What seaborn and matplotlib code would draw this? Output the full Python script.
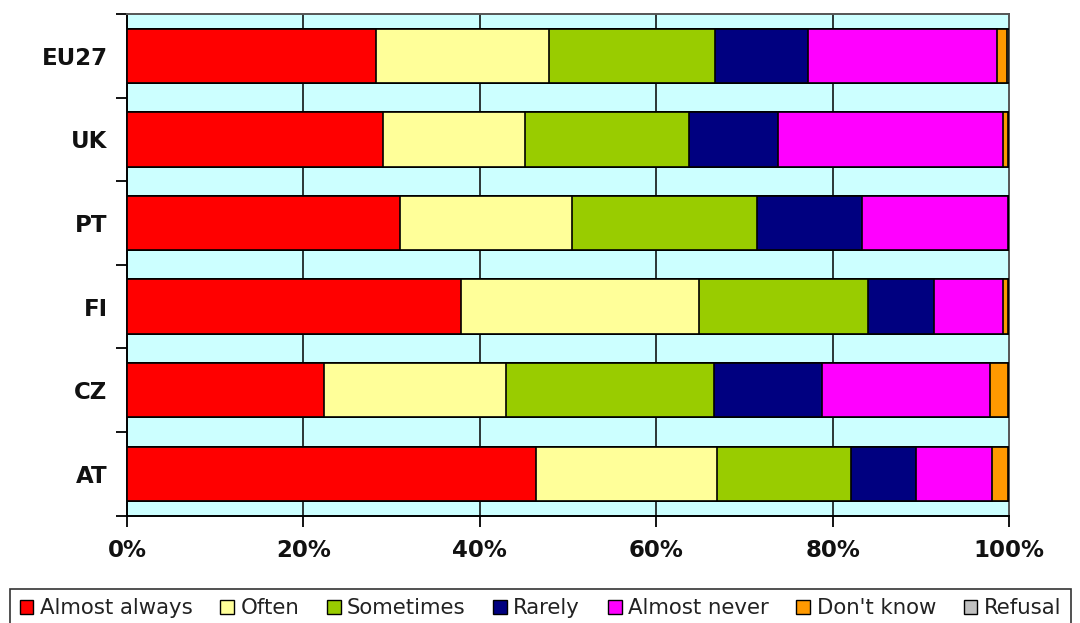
import numpy as np
import pandas as pd
import matplotlib
matplotlib.use("Agg")
import matplotlib.pyplot as plt
from matplotlib.patches import Patch
from matplotlib.ticker import FixedLocator, PercentFormatter
import seaborn as sns

# Survey shares (%) per country, stacked left to right
countries = ["EU27", "UK", "PT", "FI", "CZ", "AT"]
responses = ["Almost always", "Often", "Sometimes", "Rarely",
             "Almost never", "Don't know", "Refusal"]
almost_always = [28.2, 29.0, 31.0, 37.9, 22.3, 46.4]
often = [19.7, 16.1, 19.5, 26.9, 20.7, 20.5]
sometimes = [18.8, 18.6, 20.9, 19.2, 23.5, 15.2]
rarely = [10.5, 10.1, 11.9, 7.5, 12.3, 7.4]
almost_never = [21.4, 25.5, 16.6, 7.8, 19.1, 8.6]
dont_know = [1.2, 0.6, 0.0, 0.6, 2.0, 1.8]
refusal = [0.2, 0.1, 0.1, 0.1, 0.1, 0.1]

colors = ["#FF0000", "#FFFF99", "#99CC00", "#000080",
          "#FF00FF", "#FF9900", "#C0C0C0"]

series = [almost_always, often, sometimes, rarely, almost_never, dont_know, refusal]
df = pd.DataFrame({"country": countries})
for name, vals in zip(responses, series):
    df[name] = vals
# normalise each row to 100 %
totals = df[responses].sum(axis=1)
shares = df[responses].div(totals, axis=0) * 100
cum = shares.cumsum(axis=1)

sns.set_style("white")
plt.rcParams["font.family"] = ["DejaVu Sans"]

fig = plt.figure(figsize=(10.8, 6.23), dpi=100)
ax = fig.add_axes([127 / 1080, 1 - 515.5 / 623, (1009 - 127) / 1080, (515.5 - 14) / 623])
ax.set_facecolor("#CCFFFF")

# draw cumulative layers from the outermost inwards
for name, col in reversed(list(zip(responses, colors))):
    layer = pd.DataFrame({"country": countries, "cum": cum[name].values})
    sns.barplot(data=layer, x="cum", y="country", color=col, orient="h",
                width=0.65, edgecolor="black", linewidth=1.2, ax=ax,
                saturation=1, zorder=3)

ax.set_xlim(0, 100)
ax.set_ylim(len(countries) - 0.5, -0.5)
ax.set_xlabel("")
ax.set_ylabel("")

ax.xaxis.set_major_locator(FixedLocator([0, 20, 40, 60, 80, 100]))
ax.xaxis.set_major_formatter(PercentFormatter(decimals=0))
for x in [20, 40, 60, 80]:
    ax.axvline(x, color="black", lw=1.1, zorder=1)

ax.yaxis.set_minor_locator(FixedLocator(np.arange(-0.5, len(countries), 1.0)))
ax.tick_params(axis="y", which="major", left=True, length=0, pad=14, labelsize=16.5)
ax.tick_params(axis="y", which="minor", left=True, length=8, width=1.3,
               color="black", direction="out")
ax.tick_params(axis="x", which="major", bottom=True, length=8, width=1.3,
               color="black", direction="out", pad=9, labelsize=16.5)
for lab in ax.get_xticklabels() + ax.get_yticklabels():
    lab.set_fontweight("bold")
    lab.set_color("#111111")

for side in ["left", "bottom"]:
    ax.spines[side].set_visible(True)
    ax.spines[side].set_color("black")
    ax.spines[side].set_linewidth(1.4)
for side in ["top", "right"]:
    ax.spines[side].set_visible(True)
    ax.spines[side].set_color("#555555")
    ax.spines[side].set_linewidth(1.4)

handles = [Patch(facecolor=c, edgecolor="black", linewidth=1.0, label=r)
           for r, c in zip(responses, colors)]
leg = fig.legend(handles=handles, ncol=7, loc="lower left",
                 bbox_to_anchor=(10 / 1080, -5 / 623),
                 frameon=True, fancybox=False, fontsize=15.3,
                 handlelength=0.65, handleheight=0.65, handletextpad=0.3,
                 columnspacing=1.3, borderpad=0.45, borderaxespad=0)
leg.get_frame().set_edgecolor("black")
leg.get_frame().set_linewidth(1.2)
for t in leg.get_texts():
    t.set_color("#222222")

fig.savefig("out.png", dpi=100)
